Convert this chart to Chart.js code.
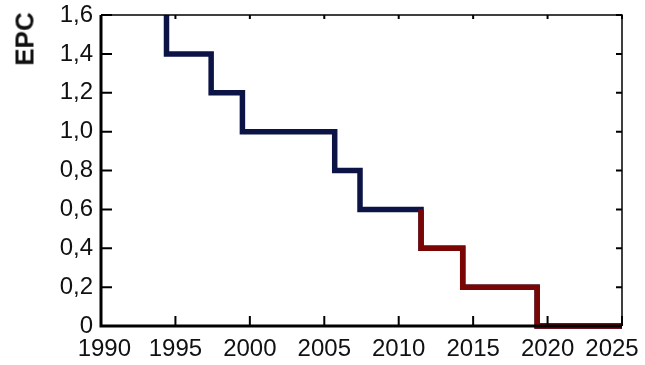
<!DOCTYPE html>
<html>
<head>
<meta charset="utf-8">
<script src="https://cdn.jsdelivr.net/npm/chart.js@4/dist/chart.umd.min.js"></script>
<style>
  html, body { margin: 0; padding: 0; background: #fff; }
  #wrap { position: relative; width: 645px; height: 365px; }
  #ylab {
    position: absolute; left: 25px; top: 39px;
    transform: translate(-50%, -50%) rotate(-90deg);
    font-family: "Liberation Sans", Arial, sans-serif;
    font-weight: bold; font-size: 26px; color: #111; white-space: nowrap;
  }
</style>
</head>
<body>
<div id="wrap">
  <canvas id="c" width="645" height="365"></canvas>
  <div id="ylab">EPC</div>
</div>
<script>
// Step change years and the EPC level that begins at each year
const blueYears = [1994.4, 1994.4, 1997.4, 1999.5, 2005.7, 2007.4, 2011.5, 2014.3, 2019.3, 2025];
const blueEPC   = [1.6,    1.4,    1.2,    1.0,    0.8,    0.6,    0.4,    0.2,    0,      0];
const redYears  = [2011.5, 2011.5, 2014.3, 2019.3, 2025];
const redEPC    = [0.6,    0.4,    0.2,    0,      0];
const xTicks = [1990, 1995, 2000, 2005, 2010, 2015, 2020, 2025];
const yTicks = [0, 0.2, 0.4, 0.6, 0.8, 1.0, 1.2, 1.4, 1.6];

const toPts = (xs, ys) => xs.map((x, i) => ({x: x, y: ys[i]}));
const FONT = '"Liberation Sans", Arial, sans-serif';

const frame = {
  id: 'frame',
  afterDraw(chart) {
    const ctx = chart.ctx, a = chart.chartArea;
    const xs = chart.scales.x, ys = chart.scales.y;
    ctx.save();
    ctx.strokeStyle = '#000';
    // thin top & right
    ctx.lineWidth = 1.5;
    ctx.beginPath();
    ctx.moveTo(a.left, a.top); ctx.lineTo(a.right, a.top); ctx.lineTo(a.right, a.bottom);
    ctx.stroke();
    // inward ticks
    ctx.lineWidth = 2;
    ctx.beginPath();
    xTicks.forEach(v => {
      const px = xs.getPixelForValue(v);
      ctx.moveTo(px, a.bottom); ctx.lineTo(px, a.bottom - 10);
      ctx.moveTo(px, a.top); ctx.lineTo(px, a.top + 4);
    });
    yTicks.forEach(v => {
      const py = ys.getPixelForValue(v);
      ctx.moveTo(a.left, py); ctx.lineTo(a.left + 11, py);
      ctx.moveTo(a.right, py); ctx.lineTo(a.right - 6, py);
    });
    ctx.stroke();
    // thick left & bottom
    ctx.lineWidth = 3;
    ctx.beginPath();
    ctx.moveTo(a.left, a.top); ctx.lineTo(a.left, a.bottom); ctx.lineTo(a.right, a.bottom);
    ctx.stroke();
    ctx.restore();
  }
};

new Chart(document.getElementById('c'), {
  type: 'line',
  data: {
    datasets: [
      { data: toPts(redYears, redEPC), borderColor: '#7a0505', borderWidth: 5.5,
        stepped: 'before', pointRadius: 0, fill: false, order: 1, clip: 3 },
      { data: toPts(blueYears, blueEPC), borderColor: '#0c1446', borderWidth: 5.5,
        stepped: 'before', pointRadius: 0, fill: false, order: 2, clip: 3 }
    ]
  },
  options: {
    responsive: false,
    animation: false,
    events: [],
    layout: { padding: { left: 0, top: 15, right: 23, bottom: 0 } },
    plugins: { legend: { display: false }, tooltip: { enabled: false } },
    scales: {
      x: {
        type: 'linear', min: 1990, max: 2025,
        afterBuildTicks: s => { s.ticks = xTicks.map(v => ({value: v})); },
        afterFit: s => { s.height = 39; s.paddingLeft = 0; s.paddingRight = 0; },
        grid: { display: false, drawTicks: false },
        border: { display: false },
        ticks: { color: '#111', font: { family: FONT, size: 24 }, padding: 9, maxRotation: 0,
                 autoSkip: false,
                 // edge labels nudged inward so they stay on the page, as in the original
                 callback: v => v === 1990 ? ' 1990' : (v === 2025 ? '2025   ' : String(v)) }
      },
      y: {
        type: 'linear', min: 0, max: 1.6,
        afterBuildTicks: s => { s.ticks = yTicks.map(v => ({value: v})); },
        afterFit: s => { s.width = 101; s.paddingTop = 0; s.paddingBottom = 0; },
        grid: { display: false, drawTicks: false },
        border: { display: false },
        ticks: { color: '#111', font: { family: FONT, size: 24 }, padding: 8, autoSkip: false,
                 callback: v => v === 0 ? '0' : v.toFixed(1).replace('.', ',') }
      }
    }
  },
  plugins: [frame]
});
</script>
</body>
</html>
